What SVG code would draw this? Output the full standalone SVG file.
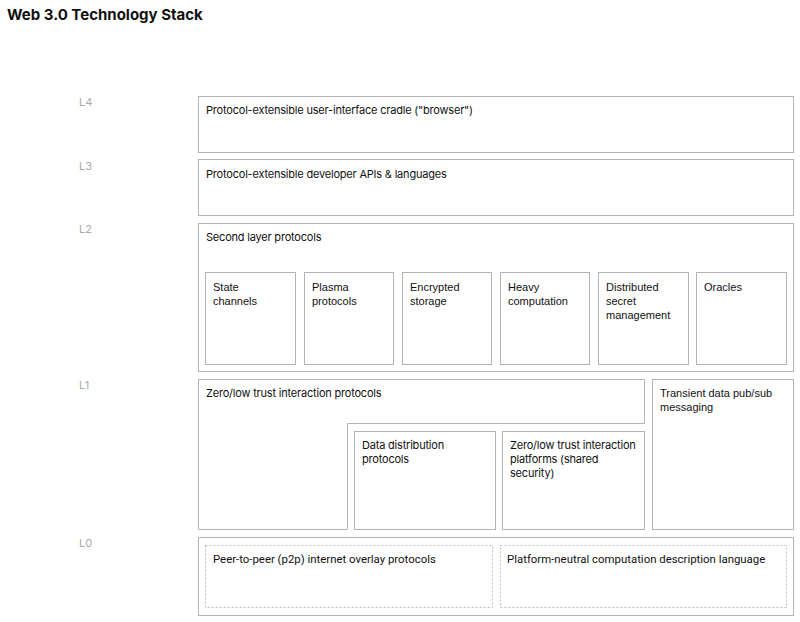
<svg xmlns="http://www.w3.org/2000/svg" width="800" height="622" viewBox="0 0 800 622">
<style>
.bg{fill:#fff}
.box{fill:#fff;stroke:#b4b4b4;stroke-width:1}
.dash{fill:#fff;stroke:#bdbdbd;stroke-width:1;stroke-dasharray:2 2}
.t{font-family:Inter,"Liberation Sans",sans-serif;font-size:11px;letter-spacing:-0.2px;fill:#111}
.a{font-family:"Liberation Sans",Arial,sans-serif;font-size:11px;fill:#111}
.r{font-family:Roboto,"Liberation Sans",sans-serif;font-size:11.4px;fill:#111}
.lvl{font-family:Inter,"Liberation Sans",sans-serif;font-size:11px;fill:#aaaaaa}
.title{font-family:Inter,"Liberation Sans",sans-serif;font-size:15px;font-weight:700;fill:#111}
</style>
<rect class="bg" x="0" y="0" width="800" height="622"/>
<text class="title" x="7" y="20">Web 3.0 Technology Stack</text>
<g id="levels">
<text class="lvl" x="79" y="106">L4</text>
<text class="lvl" x="79" y="170">L3</text>
<text class="lvl" x="79" y="233">L2</text>
<text class="lvl" x="79" y="389">L1</text>
<text class="lvl" x="79" y="547">L0</text>
</g>
<g id="l4">
<rect class="box" x="198.5" y="96.5" width="595" height="56"/>
<text class="t" x="206" y="114">Protocol-extensible user-interface cradle ("browser")</text>
</g>
<g id="l3">
<rect class="box" x="198.5" y="159.5" width="595" height="56"/>
<text class="t" x="206" y="178">Protocol-extensible developer APIs &amp; languages</text>
</g>
<g id="l2">
<rect class="box" x="198.5" y="223.5" width="595" height="148"/>
<text class="t" x="206" y="241">Second layer protocols</text>
</g>
<g id="state-channels">
<rect class="box" x="205.5" y="272.5" width="90" height="92"/>
<text class="a" x="213" y="291">State<tspan x="213" dy="14">channels</tspan></text>
</g>
<g id="plasma">
<rect class="box" x="304.5" y="272.5" width="89" height="92"/>
<text class="a" x="312" y="291">Plasma<tspan x="312" dy="14">protocols</tspan></text>
</g>
<g id="encrypted-storage">
<rect class="box" x="402.5" y="272.5" width="89" height="92"/>
<text class="a" x="410" y="291">Encrypted<tspan x="410" dy="14">storage</tspan></text>
</g>
<g id="heavy-computation">
<rect class="box" x="500.5" y="272.5" width="89" height="92"/>
<text class="a" x="508" y="291">Heavy<tspan x="508" dy="14">computation</tspan></text>
</g>
<g id="secret-management">
<rect class="box" x="598.5" y="272.5" width="90" height="92"/>
<text class="a" x="606" y="291">Distributed<tspan x="606" dy="14">secret</tspan><tspan x="606" dy="14">management</tspan></text>
</g>
<g id="oracles">
<rect class="box" x="696.5" y="272.5" width="90" height="92"/>
<text class="a" x="704" y="291">Oracles</text>
</g>
<g id="zero-low-trust-protocols">
<path class="box" d="M198.5 379.5 H644.5 V423.5 H347.5 V529.5 H198.5 Z"/>
<text class="t" x="206" y="397">Zero/low trust interaction protocols</text>
</g>
<g id="data-distribution">
<rect class="box" x="354.5" y="431.5" width="141" height="98"/>
<text class="t" x="362" y="449">Data distribution<tspan x="362" dy="14">protocols</tspan></text>
</g>
<g id="zero-low-trust-platforms">
<rect class="box" x="502.5" y="431.5" width="142" height="98"/>
<text class="t" x="510" y="449">Zero/low trust interaction<tspan x="510" dy="14">platforms (shared</tspan><tspan x="510" dy="14">security)</tspan></text>
</g>
<g id="transient-pubsub">
<rect class="box" x="652.5" y="379.5" width="141" height="150"/>
<text class="a" x="660" y="397">Transient data pub/sub<tspan x="660" dy="14">messaging</tspan></text>
</g>
<g id="l0">
<rect class="box" x="198.5" y="537.5" width="595" height="78"/>
</g>
<g id="p2p">
<rect class="dash" x="205.5" y="545.5" width="287" height="62"/>
<text class="r" x="213" y="563">Peer-to-peer (p2p) internet overlay protocols</text>
</g>
<g id="computation-language">
<rect class="dash" x="500.5" y="545.5" width="286" height="62"/>
<text class="r" x="507" y="563">Platform-neutral computation description language</text>
</g>
<g id="connectors"></g>
</svg>
